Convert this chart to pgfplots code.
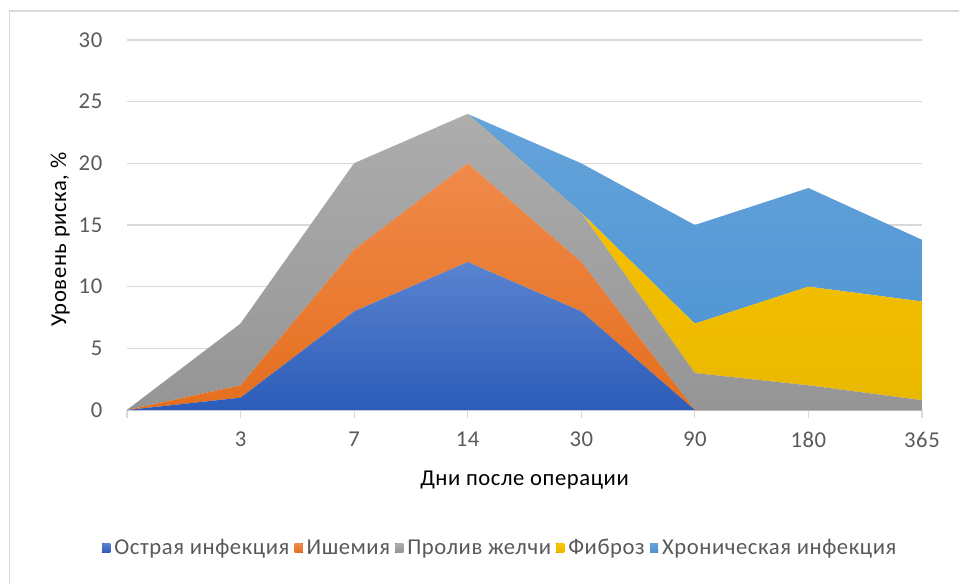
\documentclass[border=0pt]{standalone}
\usepackage{fontspec}
\setmainfont{Carlito}[LetterSpace=2.5]
\usepackage{pgfplots}
\usepackage{pgfplotstable}
\pgfplotsset{compat=1.18}
\definecolor{txt}{HTML}{595959}
\definecolor{gridc}{HTML}{D9D9D9}
\definecolor{acuteT}{HTML}{5A83CF}
\definecolor{acuteB}{HTML}{2C5CB9}
\definecolor{ischT}{HTML}{F08A4B}
\definecolor{ischB}{HTML}{E46F1E}
\definecolor{bileT}{HTML}{ADADAD}
\definecolor{bileB}{HTML}{959595}
\definecolor{fibT}{HTML}{FFC400}
\definecolor{fibB}{HTML}{E8B800}
\definecolor{chrT}{HTML}{65A3DA}
\definecolor{chrB}{HTML}{4A92D2}

% x: 0..7 -> (blank), 3, 7, 14, 30, 90, 180, 365 days
\pgfplotstableread{
x acute isch bile fib chron
0 0  0 0   0 0
1 1  1 5   0 0
2 8  5 7   0 0
3 12 8 4   0 0
4 8  4 4   0 4
5 0  0 3   4 8
6 0  0 2   8 8
7 0  0 0.8 8 5
}\risk

\begin{document}
\begin{tikzpicture}
\useasboundingbox (0,0) rectangle (719.25pt,437.25pt);
\draw[gridc, line width=0.8pt] (7.1pt,-2pt) -- (7.1pt,429pt) -- (730pt,429pt);
\begin{axis}[
  at={(95.25pt,129.75pt)}, anchor=south west,
  scale only axis, width=596.25pt, height=277.5pt,
  stack plots=y,
  xmin=0, xmax=7, ymin=0, ymax=30,
  xtick={0,...,7},
  xticklabels={,3,7,14,30,90,180,365},
  ytick={0,5,...,30},
  axis lines*=left,
  y axis line style={draw=none},
  x axis line style={draw=gridc, line width=0.8pt},
  ymajorgrids, grid style={draw=gridc, line width=0.8pt},
  tick align=outside,
  major tick length=6pt,
  xtick style={draw=gridc, line width=0.8pt},
  ytick style={draw=none},
  /pgf/number format/assume math mode=true,
  font=\fontsize{17}{20}\selectfont,
  tick label style={text=txt},
  yticklabel style={xshift=-9pt},
  xticklabel style={yshift=-7pt},
  xlabel={Дни после операции},
  ylabel={Уровень риска, \%},
  label style={text=txt},
  every axis x label/.style={at={(axis description cs:0.5,-0.19)}, anchor=center},
  every axis y label/.style={at={(axis description cs:-0.084,0.46)}, rotate=90, anchor=center},
  legend columns=5,
  legend style={at={(axis description cs:0.465,-0.373)}, anchor=center,
    draw=none, fill=none, text=txt, inner sep=0pt,
    nodes={inner sep=0pt}},
  legend image code/.code={\fill[#1] (0pt,-3.5pt) rectangle (6pt,3.5pt);
    \path (-4pt,0pt) (9pt,0pt);},
  clip=false,
]
\addplot[draw=none, top color=acuteT, bottom color=acuteB] table[y=acute] {\risk} \closedcycle;
\addlegendentry{Острая инфекция}
\addplot[draw=none, top color=ischT, bottom color=ischB] table[y=isch] {\risk} \closedcycle;
\addlegendentry{Ишемия}
\addplot[draw=none, top color=bileT, bottom color=bileB] table[y=bile] {\risk} \closedcycle;
\addlegendentry{Пролив желчи}
\addplot[draw=none, top color=fibT, bottom color=fibB] table[y=fib] {\risk} \closedcycle;
\addlegendentry{Фиброз}
\addplot[draw=none, top color=chrT, bottom color=chrB] table[y=chron] {\risk} \closedcycle;
\addlegendentry{Хроническая инфекция}
\end{axis}
\end{tikzpicture}
\end{document}
